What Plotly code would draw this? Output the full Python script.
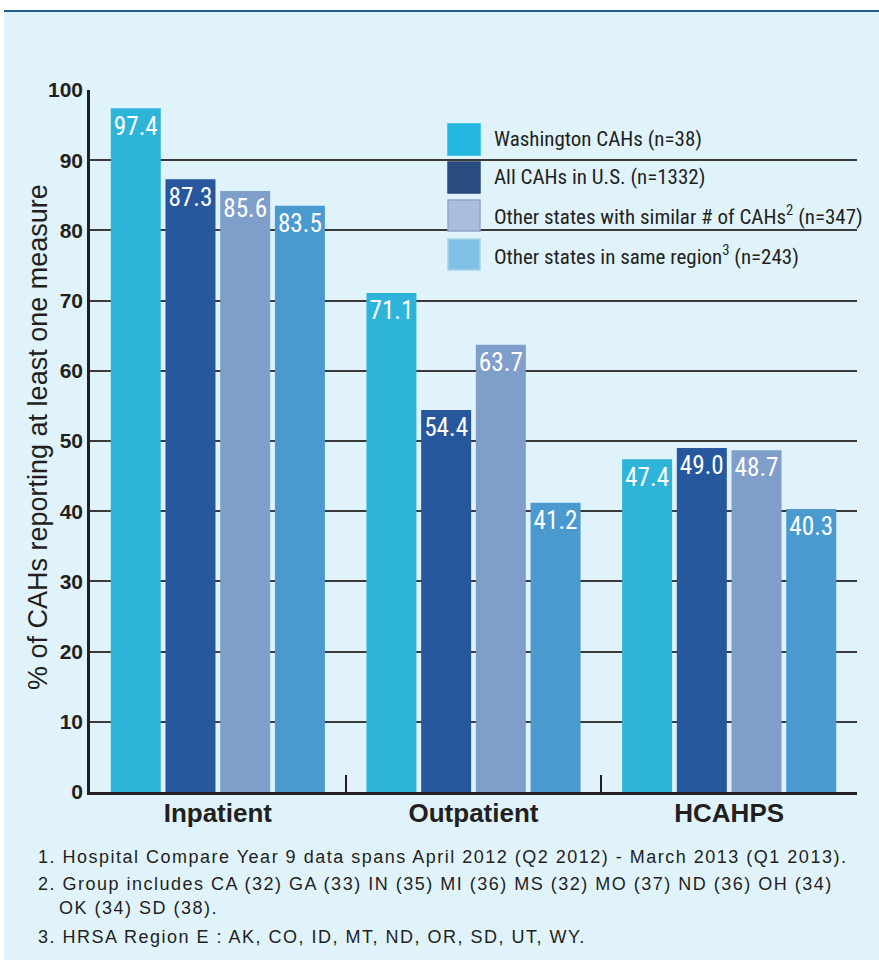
import plotly.graph_objects as go

# ---------------- data ----------------
categories = ["Inpatient", "Outpatient", "HCAHPS"]
series_names = [
    "Washington CAHs (n=38)",
    "All CAHs in U.S. (n=1332)",
    "Other states with similar # of CAHs<sup>2</sup> (n=347)",
    "Other states in same region<sup>3</sup> (n=243)",
]
washington = [97.4, 71.1, 47.4]
all_us = [87.3, 54.4, 49.0]
similar_states = [85.6, 63.7, 48.7]
same_region = [83.5, 41.2, 40.3]
series_values = [washington, all_us, similar_states, same_region]

y_ticks = [0, 10, 20, 30, 40, 50, 60, 70, 80, 90, 100]
y_title = "% of CAHs reporting at least one measure"
footnote_lines = [
    "1. Hospital Compare Year 9 data spans April 2012 (Q2 2012) - March 2013 (Q1 2013).",
    "2. Group includes CA (32) GA (33) IN (35) MI (36) MS (32) MO (37) ND (36) OH (34)",
    "OK (34) SD (38).",
    "3. HRSA Region E : AK, CO, ID, MT, ND, OR, SD, UT, WY.",
]

# ---------------- styles ----------------
bar_colors = ["#2FB4D9", "#27579C", "#7F9FCA", "#4A9AD0"]
swatch_colors = ["#22B6E0", "#294B7F", "#A9BEDB", "#80C0E4"]
swatch_borders = ["#22B6E0", "#294B7F", "#8FA7CC", "#A6D3EC"]
BG = "#E0F3FA"
DARK = "#231F20"
NARROW = "Roboto Condensed, Liberation Sans Narrow, Arial Narrow, DejaVu Sans Condensed, Roboto, sans-serif"
SANS = "Liberation Sans, Arial, Helvetica, sans-serif"

W, H = 879, 960
L, R, T, B = 90, 22, 90, 168
PW, PH = W - L - R, H - T - B


def px_x(px):
    return (px - L) / PW


def px_y(py):
    return (H - B - py) / PH


fig = go.Figure()
for name, vals, col in zip(series_names, series_values, bar_colors):
    fig.add_trace(go.Bar(
        x=categories, y=vals, name=name,
        marker=dict(color=col, line=dict(width=0)),
        text=vals, texttemplate="%{y:.1f}",
        textposition="inside", insidetextanchor="end", textangle=0,
        textfont=dict(family=NARROW, size=27, color="white"),
        showlegend=False, hoverinfo="x+y",
    ))

shapes = []
annotations = []

# white strip at top and left, dark rule line
shapes.append(dict(type="rect", xref="paper", yref="paper",
                   x0=px_x(0), x1=px_x(W), y0=px_y(11), y1=px_y(0),
                   fillcolor="white", line=dict(width=0), layer="below"))
shapes.append(dict(type="rect", xref="paper", yref="paper",
                   x0=px_x(0), x1=px_x(4), y0=px_y(H), y1=px_y(0),
                   fillcolor="white", line=dict(width=0), layer="below"))
shapes.append(dict(type="line", xref="paper", yref="paper",
                   x0=px_x(4), x1=px_x(W), y0=px_y(11), y1=px_y(11),
                   line=dict(color="#1F5C8E", width=2)))

# manual legend
sw_top = [124, 162, 200, 239]
sw_h = 31
for i, (name, col, bcol) in enumerate(zip(series_names, swatch_colors, swatch_borders)):
    y0 = sw_top[i]
    shapes.append(dict(type="rect", xref="paper", yref="paper",
                       x0=px_x(448), x1=px_x(480), y0=px_y(y0 + sw_h), y1=px_y(y0),
                       fillcolor=col, line=dict(color=bcol, width=1.5)))
    annotations.append(dict(xref="paper", yref="paper", x=px_x(492), y=px_y(y0 + sw_h / 2),
                            xanchor="left", yanchor="middle", showarrow=False,
                            text=name, font=dict(family=NARROW, size=21, color=DARK)))

# y-axis title (rotated annotation)
annotations.append(dict(xref="paper", yref="paper", x=px_x(38), y=px_y(437),
                        xanchor="center", yanchor="middle", showarrow=False, textangle=-90,
                        text=y_title, font=dict(family=SANS, size=27, color=DARK)))

# footnotes
fn_x = [36, 36, 57, 36]
fn_y = [857, 884, 908, 937]
for txt, fx, fy in zip(footnote_lines, fn_x, fn_y):
    annotations.append(dict(xref="paper", yref="paper", x=px_x(fx), y=px_y(fy),
                            xanchor="left", yanchor="middle", showarrow=False,
                            text=f'<span style="letter-spacing:1.5px">{txt}</span>',
                            font=dict(family=SANS, size=18, color=DARK)))

fig.update_layout(
    width=W, height=H,
    margin=dict(l=L, r=R, t=T, b=B, pad=0),
    paper_bgcolor=BG, plot_bgcolor=BG,
    barmode="group", bargap=0.144, bargroupgap=0.086,
    showlegend=False,
    shapes=shapes, annotations=annotations,
    xaxis=dict(
        type="category", tickson="boundaries", ticks="inside", ticklen=17,
        tickwidth=2, tickcolor=DARK, showline=True, linecolor=DARK, linewidth=2.5,
        showgrid=False, tickfont=dict(family=SANS, size=26, color=DARK, weight="bold"),
        ticklabelstandoff=-4, fixedrange=True,
    ),
    yaxis=dict(
        range=[0, 100], tickvals=y_ticks, ticktext=[str(v) for v in y_ticks],
        showgrid=True, gridcolor="#3A3A3A", gridwidth=1.5,
        showline=True, linecolor=DARK, linewidth=2.5, zeroline=False,
        ticks="", tickfont=dict(family=SANS, size=21, color=DARK, weight="bold"),
        fixedrange=True,
    ),
)

fig.write_html(
    "out.html",
    config={"displayModeBar": False},
    post_script="document.body.style.margin='0';document.body.style.overflow='hidden';",
)
